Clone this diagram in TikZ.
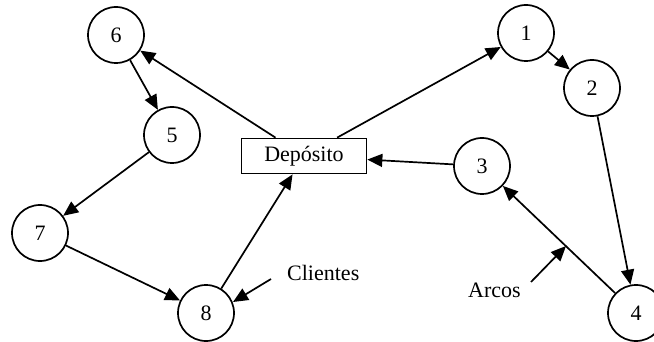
\documentclass[tikz,border=0pt]{standalone}
\usepackage{fontspec}
\setmainfont{Liberation Serif}
\usetikzlibrary{arrows.meta}
\begin{document}
\begin{tikzpicture}[x=1pt,y=-1pt,
  cnode/.style={circle,draw,line width=1.7pt,minimum size=56pt,inner sep=0pt,font=\fontsize{22}{24}\selectfont},
  dep/.style={rectangle,draw,line width=1.7pt,minimum width=125pt,minimum height=35pt,inner sep=0pt,font=\fontsize{22}{24}\selectfont},
  arc/.style={line width=1.7pt,-{Triangle[length=15pt,width=13pt]}},
  lbl/.style={font=\fontsize{22}{24}\selectfont,inner sep=0pt}]
\clip (0,0) rectangle (654,342);
\useasboundingbox (0,0) rectangle (654,342);
\node[dep] (D) at (304,156) {Depósito};
\node[cnode] (n6) at (116,35) {6};
\node[cnode] (n5) at (172,135) {5};
\node[cnode] (n7) at (40,233) {7};
\node[cnode] (n8) at (206,313) {8};
\node[cnode] (n1) at (526,33) {1};
\node[cnode] (n2) at (592,88) {2};
\node[cnode] (n3) at (482,166) {3};
\node[cnode] (n4) at (636,313) {4};
\draw[arc] (D) -- (n6);
\draw[arc] (n6) -- (n5);
\draw[arc] (n5) -- (n7);
\draw[arc] (n7) -- (n8);
\draw[arc] (n8) -- (D);
\draw[arc] (D) -- (n1);
\draw[arc] (n1) -- (n2);
\draw[arc] (n2) -- (n4);
\draw[arc] (n4) -- (n3);
\draw[arc] (n3) -- (D);
\node[lbl,anchor=base west] (cl) at (287,280) {Clientes};
\node[lbl,anchor=base west] (ar) at (468,298) {Arcos};
\coordinate (cls) at (271,279);
\coordinate (clt) at (233,302);
\coordinate (ars) at (531,282);
\coordinate (art) at (566,246);
\draw[arc] (cls) -- (clt);
\draw[arc] (ars) -- (art);
\end{tikzpicture}
\end{document}
